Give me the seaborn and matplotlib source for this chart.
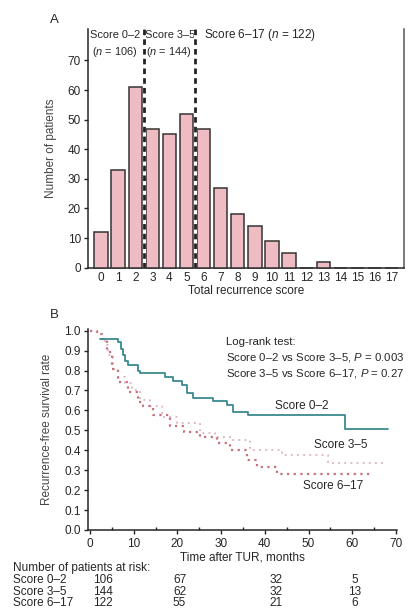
import numpy as np
import pandas as pd
import matplotlib
matplotlib.use("Agg")
import matplotlib.pyplot as plt
import seaborn as sns

# panel A: histogram of total recurrence score
scores = list(range(18))
patients = [12, 33, 61, 47, 45, 52, 47, 27, 18, 14, 9, 5, 0, 2, 0, 0, 0, 0]
group_cuts = [2.5, 5.5]

# panel B: Kaplan-Meier curves (months, survival)
t_low = [2.3, 6.5, 7.0, 7.6, 8.0, 8.6, 11.0, 11.4, 16.0, 17.2, 19.0, 21.0, 22.1, 23.6, 26.7, 28.2, 31.3, 32.8, 36.2, 58.3, 68.3]
s_low = [0.958, 0.945, 0.91, 0.878, 0.85, 0.83, 0.80, 0.79, 0.79, 0.766, 0.75, 0.73, 0.686, 0.66, 0.66, 0.645, 0.625, 0.59, 0.577, 0.505, 0.505]

t_mid = [2.3, 3.5, 4.2, 5.3, 6.5, 8.0, 9.5, 11.4, 13.7, 16.4, 19.8, 25.2, 28.5, 32.0, 36.6, 43.9, 54.5, 67.5]
s_mid = [0.958, 0.93, 0.878, 0.81, 0.77, 0.736, 0.70, 0.65, 0.62, 0.565, 0.535, 0.485, 0.465, 0.45, 0.40, 0.376, 0.338, 0.338]

t_high = [0.0, 1.5, 2.7, 3.8, 5.0, 6.5, 8.8, 11.0, 12.2, 14.4, 18.3, 21.4, 25.2, 29.0, 32.0, 35.9, 38.1, 42.7, 64.8]
s_high = [1.0, 0.985, 0.96, 0.895, 0.81, 0.744, 0.694, 0.644, 0.62, 0.577, 0.52, 0.49, 0.468, 0.435, 0.40, 0.35, 0.318, 0.283, 0.283]

risk_groups = ["Score 0\u20132", "Score 3\u20135", "Score 6\u201317"]
risk_times = [0, 20, 40, 60]
risk_low = [106, 67, 32, 5]
risk_mid = [144, 62, 32, 13]
risk_high = [122, 55, 21, 6]

sns.set_style("ticks")
plt.rcParams["font.family"] = ["Liberation Sans", "DejaVu Sans"]
plt.rcParams["mathtext.fontset"] = "custom"
plt.rcParams["mathtext.it"] = "Liberation Sans:italic"
plt.rcParams["mathtext.rm"] = "Liberation Sans"
plt.rcParams["axes.linewidth"] = 1.1
fs = 8.5

fig = plt.figure(figsize=(4.11, 6.09), dpi=100)
axA = fig.add_axes([88 / 411, 1 - 267.7 / 609, (404 - 88) / 411, (267.7 - 29) / 609])
axB = fig.add_axes([87.8 / 411, 1 - 530 / 609, (396.8 - 87.8) / 411, (530 - 328.7) / 609])

# ---- A
dfA = pd.DataFrame({"score": scores, "n": patients})
sns.barplot(data=dfA, x="score", y="n", color="#f0bcc4", saturation=1,
            edgecolor="#333333", linewidth=1.1, width=0.78, ax=axA)
for p in axA.patches:
    p.set_zorder(3)
    p.set_clip_on(False)
for c in group_cuts:
    axA.plot([c, c], [0, 80.6], color="white", lw=2.2, zorder=5)
    axA.plot([c, c], [0, 80.6], color="#222222", lw=2.0, ls=(0, (2, 1.5)), zorder=6)
axA.set_xlim(-0.76, 17.72)
axA.set_ylim(0, 80.6)
axA.set_yticks(range(0, 80, 10))
axA.tick_params(axis="x", length=0, pad=3, labelsize=fs)
axA.tick_params(axis="y", length=3, width=1, labelsize=fs, pad=2)
axA.spines["top"].set_visible(False)
axA.spines["right"].set_visible(True)
axA.spines["right"].set_color("#555555")
axA.set_xlabel("Total recurrence score", fontsize=fs, labelpad=1)
axA.set_ylabel("Number of patients", fontsize=fs, color="#444444", labelpad=8)
gfs = 7.9
axA.text(-0.66, 78.5, "Score 0\u20132", fontsize=gfs, va="center")
axA.text(-0.55, 73.0, "($n$ = 106)", fontsize=gfs, va="center")
axA.text(2.58, 78.5, "Score 3\u20135", fontsize=gfs, va="center")
axA.text(2.65, 73.0, "($n$ = 144)", fontsize=gfs, va="center")
axA.text(6.05, 78.5, "Score 6\u201317 ($n$ = 122)", fontsize=fs, va="center")
fig.text(50 / 411, 1 - 20 / 609, "A", fontsize=9.5, va="center")

# ---- B
for t, s, col, ls, lw, z in [
    (t_mid, s_mid, "#dcb0c0", (0, (1, 2.4)), 1.3, 2),
    (t_high, s_high, "#c8707c", (0, (1, 2.0)), 1.6, 3),
    (t_low, s_low, "#3a8a90", "-", 1.3, 4),
]:
    sns.lineplot(x=t, y=s, ax=axB, color=col, lw=lw, ls=ls, sort=False,
                 drawstyle="steps-post", zorder=z)
axB.set_xlim(-0.5, 70.2)
axB.set_ylim(0, 1.01)
axB.set_xticks(range(0, 80, 10))
axB.set_xticks(range(5, 70, 5), minor=True)
axB.set_yticks(np.arange(0, 1.05, 0.1))
axB.set_yticklabels([f"{v:.1f}" for v in np.arange(0, 1.05, 0.1)])
axB.tick_params(axis="x", which="major", direction="out", length=3, width=1, labelsize=fs, pad=3)
axB.tick_params(axis="x", which="minor", direction="in", length=2.5, width=1)
axB.tick_params(axis="y", length=3, width=1, labelsize=fs, pad=2)
axB.spines["top"].set_visible(False)
axB.spines["right"].set_visible(False)
axB.set_xlabel("Time after TUR, months", fontsize=fs, labelpad=1)
axB.set_ylabel("Recurrence-free survival rate", fontsize=fs, color="#444444", labelpad=8)
axB.text(31.2, 0.944, "Log-rank test:", fontsize=8.2, va="center")
axB.text(31.2, 0.864, "Score 0\u20132 vs Score 3\u20135, $P$ = 0.003", fontsize=8.2, va="center")
axB.text(31.2, 0.786, "Score 3\u20135 vs Score 6\u201317, $P$ = 0.27", fontsize=8.2, va="center")
axB.text(48.5, 0.62, "Score 0\u20132", fontsize=fs, ha="center", va="center")
axB.text(57.3, 0.425, "Score 3\u20135", fontsize=fs, ha="center", va="center")
axB.text(55.7, 0.22, "Score 6\u201317", fontsize=fs, ha="center", va="center")
fig.text(50 / 411, 1 - 315 / 609, "B", fontsize=9.5, va="center")

# at-risk table
fig.text(13 / 411, 1 - 568 / 609, "Number of patients at risk:", fontsize=fs, va="center")
risk_x = [3, 20.5, 42.5, 60.5]
for row, (name, vals) in enumerate(zip(risk_groups, [risk_low, risk_mid, risk_high])):
    yy = 1 - (580 + 11.6 * row) / 609
    fig.text(13 / 411, yy, name, fontsize=fs, va="center")
    for x, v in zip(risk_x, vals):
        xd = axB.transData.transform((x, 0))[0] / fig.dpi / 4.11
        fig.text(xd, yy, str(v), fontsize=fs, ha="center", va="center")

fig.savefig("out.png", dpi=100)
